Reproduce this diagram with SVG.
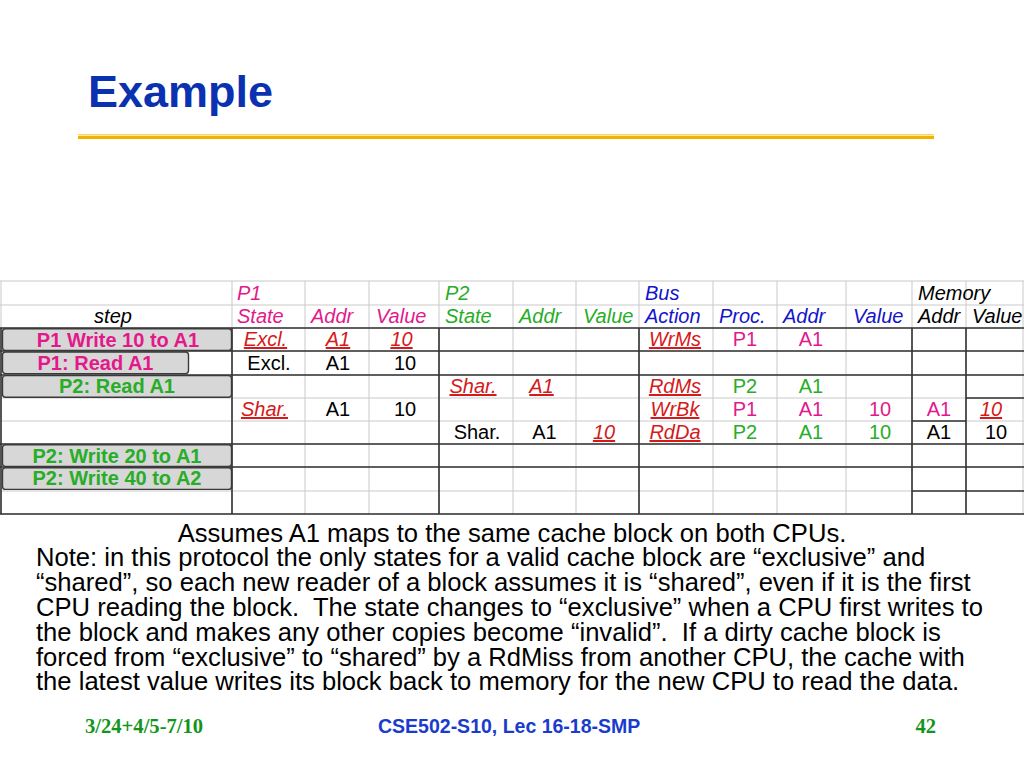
<svg xmlns="http://www.w3.org/2000/svg" width="1024" height="768" viewBox="0 0 1024 768">
<style>
.t{font-family:"Liberation Sans",Arial,sans-serif;font-size:20px}
.i{font-style:italic}
.m{text-anchor:middle}
.pk{fill:#e3198b}
.gr{fill:#27ad27}
.bl{fill:#1414c8}
.rd{fill:#d41a1a;font-style:italic;text-decoration:underline}
.k{fill:#000}
.lg{stroke:#c9c9c9;stroke-width:1;fill:none}
.dk{stroke:#333;stroke-width:1.6;fill:none}
.btn{fill:#d7d7d7;stroke:#3a3a3a;stroke-width:1.4}
.bt{font-family:"Liberation Sans",Arial,sans-serif;font-size:20px;font-weight:bold;text-anchor:middle}
.body{font-family:"Liberation Sans",Arial,sans-serif;font-size:25.6px;fill:#000}
</style>
<rect width="1024" height="768" fill="#fff"/>
<g id="title">
<text x="88" y="107" font-family="Liberation Sans,Arial,sans-serif" font-size="45" font-weight="bold" fill="#0a32b0">Example</text>
<line x1="78" y1="134.8" x2="934" y2="134.8" stroke="#ffd45a" stroke-width="1.5"/>
<line x1="78" y1="137.5" x2="934" y2="137.5" stroke="#f2b300" stroke-width="3"/>
</g>
<g id="grid">
<g class="lg">
<path d="M0 281H1024M0 305H1024M0 328H1024M0 351H1024M0 375H1024M0 398H1024M0 421H1024M0 444H1024M0 467H1024M0 491H1024M0 514H1024"/>
<path d="M1 281V514M232 281V514M305 281V514M369 281V514M439 281V514M513 281V514M576 281V514M639 281V514M713 281V514M777 281V514M846 281V514M912 281V514M966 281V514M1023 281V514"/>
</g>
<g class="dk">
<path d="M0 328H1024M0 351H1024M0 375H1024M966 398H1024M912 421H966M0 444H1024M0 467H1024M912 491H1024M0 514H1024"/>
<path d="M1 328V514M232 328V514M439 328V514M639 328V514M912 328V514M966 328V514"/>
</g>
</g>
<g id="headers" class="t i">
<text x="237" y="300" class="pk">P1</text>
<text x="445" y="300" class="gr">P2</text>
<text x="645" y="300" class="bl">Bus</text>
<text x="918" y="300" class="k">Memory</text>
<text x="113" y="323" class="k m">step</text>
<text x="237" y="323" class="pk">State</text>
<text x="311" y="323" class="pk">Addr</text>
<text x="376" y="323" class="pk">Value</text>
<text x="445" y="323" class="gr">State</text>
<text x="519" y="323" class="gr">Addr</text>
<text x="583" y="323" class="gr">Value</text>
<text x="645" y="323" class="bl">Action</text>
<text x="719" y="323" class="bl">Proc.</text>
<text x="783" y="323" class="bl">Addr</text>
<text x="853" y="323" class="bl">Value</text>
<text x="918" y="323" class="k">Addr</text>
<text x="972" y="323" class="k">Value</text>
</g>
<g id="btn1"><rect class="btn" x="2.5" y="328.8" width="229" height="21.6" rx="3"/><text class="bt pk" x="118" y="346.5">P1 Write 10 to A1</text></g>
<g id="btn2"><rect class="btn" x="2.5" y="352" width="186" height="21.6" rx="3"/><text class="bt pk" x="95.5" y="369.5">P1: Read A1</text></g>
<g id="btn3"><rect class="btn" x="2.5" y="375.6" width="229" height="21.6" rx="3"/><text class="bt gr" x="117" y="393">P2: Read A1</text></g>
<g id="btn4"><rect class="btn" x="2.5" y="444.8" width="229" height="21.6" rx="3"/><text class="bt gr" x="117" y="462.5">P2: Write 20 to A1</text></g>
<g id="btn5"><rect class="btn" x="2.5" y="467.8" width="229" height="21.6" rx="3"/><text class="bt gr" x="117" y="485">P2: Write 40 to A2</text></g>
<g id="cells" class="t m">
<text x="265.5" y="346" class="rd">Excl.</text>
<text x="338" y="346" class="rd">A1</text>
<text x="401.5" y="346" class="rd">10</text>
<text x="675" y="346" class="rd">WrMs</text>
<text x="745" y="346" class="pk">P1</text>
<text x="811" y="346" class="pk">A1</text>

<text x="269" y="369.5" class="k">Excl.</text>
<text x="338" y="369.5" class="k">A1</text>
<text x="405" y="369.5" class="k">10</text>

<text x="473" y="393" class="rd">Shar.</text>
<text x="541.5" y="393" class="rd">A1</text>
<text x="675" y="393" class="rd">RdMs</text>
<text x="745" y="393" class="gr">P2</text>
<text x="811" y="393" class="gr">A1</text>

<text x="264.5" y="416" class="rd">Shar.</text>
<text x="338" y="416" class="k">A1</text>
<text x="405" y="416" class="k">10</text>
<text x="675" y="416" class="rd">WrBk</text>
<text x="745" y="416" class="pk">P1</text>
<text x="811" y="416" class="pk">A1</text>
<text x="880" y="416" class="pk">10</text>
<text x="939" y="416" class="pk">A1</text>
<text x="991" y="416" class="rd">10</text>

<text x="477" y="439" class="k">Shar.</text>
<text x="544.5" y="439" class="k">A1</text>
<text x="604" y="439" class="rd">10</text>
<text x="675" y="439" class="rd">RdDa</text>
<text x="745" y="439" class="gr">P2</text>
<text x="811" y="439" class="gr">A1</text>
<text x="880" y="439" class="gr">10</text>
<text x="939" y="439" class="k">A1</text>
<text x="996" y="439" class="k">10</text>
</g>
<g id="notes" class="body">
<text x="512" y="542" text-anchor="middle">Assumes A1 maps to the same cache block on both CPUs.</text>
<text x="36" y="566">Note: in this protocol the only states for a valid cache block are “exclusive” and</text>
<text x="36" y="591">“shared”, so each new reader of a block assumes it is “shared”, even if it is the first</text>
<text x="36" y="616">CPU reading the block.&#160; The state changes to “exclusive” when a CPU first writes to</text>
<text x="36" y="641">the block and makes any other copies become “invalid”.&#160; If a dirty cache block is</text>
<text x="36" y="666">forced from “exclusive” to “shared” by a RdMiss from another CPU, the cache with</text>
<text x="36" y="690">the latest value writes its block back to memory for the new CPU to read the data.</text>
</g>
<g id="footer">
<text x="85" y="733" font-family="Liberation Serif,Times New Roman,serif" font-size="20.6" font-weight="bold" fill="#12961a">3/24+4/5-7/10</text>
<text x="378" y="733" font-family="Liberation Sans,Arial,sans-serif" font-size="19.5" font-weight="bold" fill="#1a3ccc">CSE502-S10, Lec 16-18-SMP</text>
<text x="936" y="733" text-anchor="end" font-family="Liberation Serif,Times New Roman,serif" font-size="20.6" font-weight="bold" fill="#12961a">42</text>
</g>
</svg>
